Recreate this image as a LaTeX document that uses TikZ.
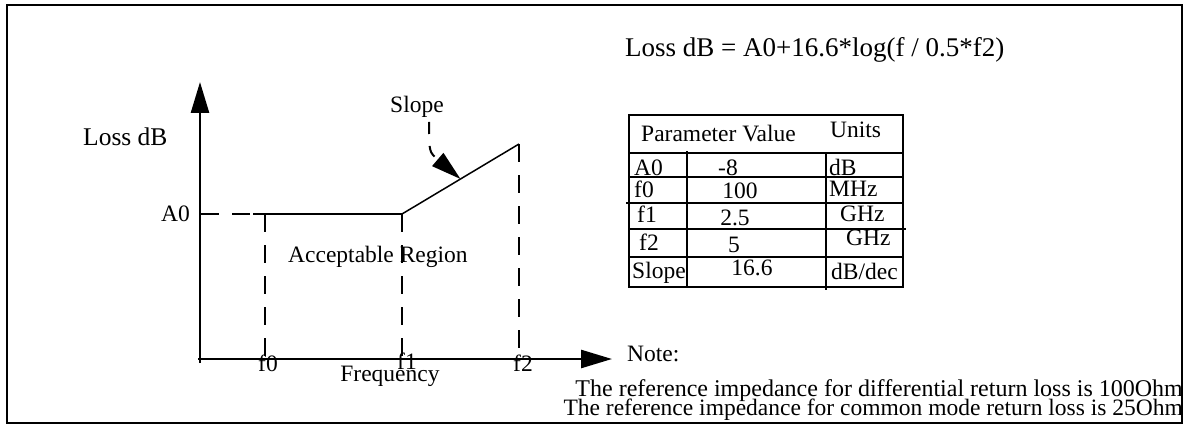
\documentclass[tikz,border=0pt]{standalone}
\usepackage{fontspec}
\setmainfont{Liberation Serif}
\usetikzlibrary{arrows.meta, positioning, calc}

\begin{document}
\begin{tikzpicture}[x=1pt, y=-1pt,
    lbl/.style={inner sep=0pt, font=\fontsize{23.5}{26}\selectfont},
    biglbl/.style={inner sep=0pt, font=\fontsize{27}{30}\selectfont},
    axis/.style={line width=2.6pt, -{Triangle[length=31pt, width=18pt]}},
    dashln/.style={line width=2.4pt, dash pattern=on 18pt off 13pt},
    tabline/.style={line width=2.4pt}]
    \useasboundingbox (0,0) rectangle (1188,425);

    % Frame
    \draw[line width=2pt] (7,5) rectangle (1182,423);

    % Axes
    \coordinate (O) at (200,359);
    \coordinate (ytop) at (200,82);
    \coordinate (xend) at (612,359);
    \draw[axis] (200,363) -- (ytop);
    \draw[axis] (198,359) -- (xend);

    % Loss curve
    \coordinate (a0) at (201,214);
    \coordinate (a0s) at (253,214);
    \coordinate (p0) at (265,214);
    \coordinate (p1) at (402,214);
    \coordinate (p2) at (519,144);
    \coordinate (b0) at (265,359);
    \coordinate (b1) at (402,359);
    \coordinate (b2) at (519,359);
    \draw[dashln] (a0) -- (a0s);
    \draw[line width=2.4pt] (a0s) -- (p1);
    \draw[line width=1.5pt] (p1) -- (p2);
    \draw[dashln] (p0) -- (b0);
    \draw[dashln] (p1) -- (b1);
    \draw[dashln] (p2) -- (b2);

    % Labels
    \node[lbl, anchor=base west, font=\fontsize{25.5}{28}\selectfont] (lossdb) at (83,146) {Loss dB};
    \node[lbl, anchor=base east] (a0lbl) at (190,221) {A0};
    \node[lbl, anchor=base] (f0lbl) at (268,371) {f0};
    \node[lbl, anchor=base] (f1lbl) at (407,369) {f1};
    \node[lbl, anchor=base] (f2lbl) at (523,371) {f2};
    \node[lbl, anchor=base] (freq) at (390,381) {Frequency};
    \node[lbl, anchor=base west] (region) at (288,262) {Acceptable Region};
    \node[lbl, anchor=base] (slope) at (417,113) {Slope};

    % Slope pointer
    \coordinate (sl) at ($(p1)!0.5!(p2)$);
    \draw[line width=2pt, dash pattern=on 12pt off 12pt,
          -{Triangle[length=30pt, width=17pt]}] (429,122) .. controls (429,152) .. (sl);

    % Formula
    \node[biglbl, anchor=base west] (formula) at (625,57) {Loss dB = A0+16.6*log(f / 0.5*f2)};

    % Table
    \draw[tabline] (629,115) rectangle (903,287);
    \draw[tabline] (629,153) -- (903,153);
    \draw[tabline] (629,177) -- (903,177);
    \draw[tabline] (626,203) -- (903,203);
    \draw[tabline] (629,229) -- (906,229);
    \draw[tabline] (629,257) -- (903,257);
    \draw[tabline] (687,151) -- (687,287);
    \draw[tabline] (826,153) -- (826,290);
    \node[lbl, anchor=base west] (hpar) at (641,142) {Parameter Value};
    \node[lbl, anchor=base west] (hunit) at (830,137) {Units};
    \node[lbl, anchor=base west] (r1a) at (634,175) {A0};
    \node[lbl, anchor=base] (r1b) at (728,175) {-8};
    \node[lbl, anchor=base west] (r1c) at (829,175) {dB};
    \node[lbl, anchor=base west] (r2a) at (634,197) {f0};
    \node[lbl, anchor=base] (r2b) at (740,198) {100};
    \node[lbl, anchor=base west] (r2c) at (829,196) {MHz};
    \node[lbl, anchor=base west] (r3a) at (637,222) {f1};
    \node[lbl, anchor=base] (r3b) at (735,225) {2.5};
    \node[lbl, anchor=base west] (r3c) at (840,221) {GHz};
    \node[lbl, anchor=base west] (r4a) at (639,250) {f2};
    \node[lbl, anchor=base] (r4b) at (734,252) {5};
    \node[lbl, anchor=base west] (r4c) at (846,245) {GHz};
    \node[lbl, anchor=base west] (r5a) at (632,278) {Slope};
    \node[lbl, anchor=base] (r5b) at (752,275) {16.6};
    \node[lbl, anchor=base west] (r5c) at (831,279) {dB/dec};

    % Note
    \node[lbl, anchor=base west] (note) at (627,361) {Note:};
    \node[lbl, anchor=base east, font=\fontsize{24}{26}\selectfont] (note1) at (1183,396) {The reference impedance for differential return loss is 100Ohm};
    \node[lbl, anchor=base east] (note2) at (1183,415) {The reference impedance for common mode return loss is 25Ohm};
\end{tikzpicture}
\end{document}
